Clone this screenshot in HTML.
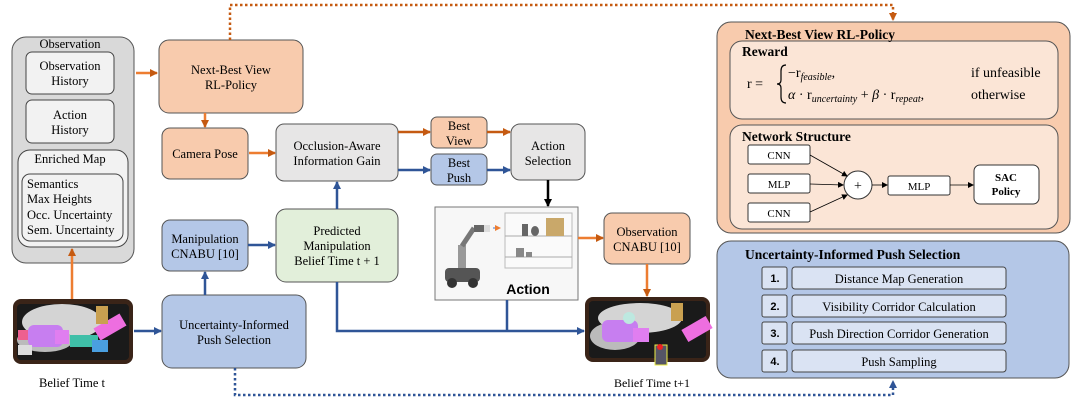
<!DOCTYPE html>
<html><head><meta charset="utf-8"><style>
body{margin:0;background:#fff}
svg{display:block;font-family:"Liberation Serif",serif}
</style></head><body>
<svg width="1076" height="401" viewBox="0 0 1076 401" xmlns="http://www.w3.org/2000/svg">
<defs>
<marker id="ao" markerWidth="6" markerHeight="6" refX="5" refY="3" orient="auto" markerUnits="userSpaceOnUse"><path d="M0,0L6,3L0,6z" fill="#ed7d31"/></marker>
<marker id="ad" markerWidth="8" markerHeight="8" refX="7" refY="4" orient="auto" markerUnits="userSpaceOnUse"><path d="M0,0L8,4L0,8z" fill="#c55a11"/></marker>
<marker id="ab" markerWidth="8" markerHeight="8" refX="7" refY="4" orient="auto" markerUnits="userSpaceOnUse"><path d="M0,0L8,4L0,8z" fill="#2f5597"/></marker>
<marker id="ak" markerWidth="8" markerHeight="8" refX="7" refY="4" orient="auto" markerUnits="userSpaceOnUse"><path d="M0,0L8,4L0,8z" fill="#000"/></marker>
<marker id="as" markerWidth="6" markerHeight="6" refX="5" refY="3" orient="auto" markerUnits="userSpaceOnUse"><path d="M0,0L6,3L0,6z" fill="#000"/></marker>
</defs>
<g font-size="12.5" text-anchor="middle" stroke-width="1">
<rect x="12" y="37" width="122" height="226" rx="14" fill="#d9d9d9" stroke="#555"/>
<text x="70" y="48">Observation</text>
<rect x="26" y="52" width="88" height="42" rx="6" fill="#f2f2f2" stroke="#444"/>
<text x="70" y="70">Observation</text><text x="70" y="85">History</text>
<rect x="26" y="100" width="88" height="43" rx="6" fill="#f2f2f2" stroke="#444"/>
<text x="70" y="119">Action</text><text x="70" y="134">History</text>
<rect x="18" y="150" width="110" height="97" rx="12" fill="#f2f2f2" stroke="#444"/>
<text x="70" y="163">Enriched Map</text>
<rect x="22" y="174" width="101" height="67" rx="8" fill="#f2f2f2" stroke="#444"/>
<g text-anchor="start"><text x="27" y="188">Semantics</text><text x="27" y="203">Max Heights</text><text x="27" y="219">Occ. Uncertainty</text><text x="27" y="234">Sem. Uncertainty</text></g>
<!-- belief t -->
<rect x="13" y="299" width="120" height="65" rx="8" fill="#3a2418"/>
<rect x="17" y="304" width="112" height="56" rx="4" fill="#1a1a1a"/>
<ellipse cx="62" cy="322" rx="40" ry="18" fill="#d4d4d4"/>
<ellipse cx="45" cy="340" rx="28" ry="12" fill="#bbb"/>
<rect x="28" y="325" width="35" height="22" rx="6" fill="#c77ef0"/>
<rect x="55" y="330" width="14" height="14" fill="#e07ef0"/>
<rect x="70" y="335" width="28" height="12" fill="#3fbfa8"/>
<rect x="95" y="320" width="30" height="14" transform="rotate(-30 110 327)" fill="#ee6ee0"/>
<rect x="96" y="306" width="12" height="18" fill="#c9a050"/>
<rect x="92" y="340" width="16" height="12" fill="#4a9fe0"/>
<rect x="18" y="330" width="10" height="10" fill="#ee6090"/>
<rect x="18" y="345" width="14" height="10" fill="#ddd"/>
<text x="72" y="387">Belief Time t</text>
<rect x="159" y="40" width="144" height="73" rx="10" fill="#f8cbad" stroke="#555"/>
<text x="231" y="74">Next-Best View</text><text x="231" y="89">RL-Policy</text>
<rect x="162" y="128" width="86" height="51" rx="8" fill="#f8cbad" stroke="#555"/>
<text x="205" y="158">Camera Pose</text>
<rect x="276" y="124" width="122" height="57" rx="8" fill="#e7e6e6" stroke="#555"/>
<text x="337" y="150">Occlusion-Aware</text><text x="337" y="165">Information Gain</text>
<rect x="162" y="220" width="86" height="51" rx="8" fill="#b4c7e7" stroke="#555"/>
<text x="205" y="243">Manipulation</text><text x="205" y="258">CNABU [10]</text>
<rect x="276" y="209" width="122" height="73" rx="10" fill="#e2efda" stroke="#555"/>
<text x="337" y="235">Predicted</text><text x="337" y="250">Manipulation</text><text x="337" y="265">Belief Time t + 1</text>
<rect x="162" y="295" width="144" height="73" rx="10" fill="#b4c7e7" stroke="#555"/>
<text x="234" y="329">Uncertainty-Informed</text><text x="234" y="344">Push Selection</text>
<rect x="431" y="117" width="56" height="31" rx="6" fill="#f8cbad" stroke="#555"/>
<text x="459" y="130">Best</text><text x="459" y="145">View</text>
<rect x="431" y="154" width="56" height="31" rx="6" fill="#b4c7e7" stroke="#555"/>
<text x="459" y="167">Best</text><text x="459" y="182">Push</text>
<rect x="511" y="124" width="74" height="56" rx="9" fill="#e7e6e6" stroke="#555"/>
<text x="548" y="150">Action</text><text x="548" y="165">Selection</text>
<rect x="435" y="207" width="143" height="93" fill="#f7f7f7" stroke="#777"/>
<rect x="505" y="213" width="67" height="55" fill="#fafafa" stroke="#bbb"/>
<line x1="505" y1="236" x2="572" y2="236" stroke="#aaa"/><line x1="505" y1="257" x2="572" y2="257" stroke="#aaa"/>
<rect x="546" y="218" width="18" height="18" fill="#c9a86a"/>
<rect x="522" y="224" width="6" height="12" fill="#666"/><ellipse cx="535" cy="231" rx="4" ry="5" fill="#666"/>
<rect x="516" y="248" width="8" height="9" fill="#888"/><rect x="526" y="252" width="6" height="5" fill="#888"/>
<rect x="445" y="268" width="35" height="14" rx="4" fill="#555"/>
<circle cx="452" cy="283" r="5" fill="#333"/><circle cx="473" cy="283" r="5" fill="#333"/>
<rect x="458" y="245" width="8" height="23" fill="#999"/>
<line x1="462" y1="246" x2="474" y2="228" stroke="#777" stroke-width="5"/>
<rect x="474" y="225" width="10" height="7" fill="#666"/><rect x="484" y="225" width="6" height="7" fill="#ddd"/>
<line x1="493" y1="228" x2="500" y2="228" stroke="#4472c4" marker-end="url(#ao)"/>
<text x="528" y="294" font-family="Liberation Sans,sans-serif" font-weight="bold" font-size="14">Action</text>
<rect x="604" y="213" width="86" height="51" rx="8" fill="#f8cbad" stroke="#555"/>
<text x="647" y="236">Observation</text><text x="647" y="251">CNABU [10]</text>
<!-- belief t+1 -->
<rect x="585" y="297" width="125" height="65" rx="8" fill="#3a2418"/>
<rect x="589" y="301" width="117" height="57" rx="4" fill="#1a1a1a"/>
<ellipse cx="640" cy="318" rx="42" ry="15" fill="#d4d4d4"/>
<ellipse cx="615" cy="336" rx="25" ry="14" fill="#bbb"/>
<rect x="602" y="320" width="36" height="22" rx="6" fill="#c77ef0"/>
<rect x="633" y="328" width="16" height="14" fill="#e07ef0"/>
<rect x="683" y="322" width="28" height="14" transform="rotate(-30 697 329)" fill="#ee6ee0"/>
<rect x="671" y="303" width="12" height="18" fill="#c9a050"/>
<circle cx="629" cy="318" r="6" fill="#bde8e0"/>
<rect x="655" y="345" width="12" height="20" fill="#556" stroke="#ee4"/>
<circle cx="660" cy="347" r="3" fill="#e22"/>
<text x="652" y="387" font-size="12">Belief Time t+1</text>
</g>
<g fill="none" stroke-width="2.5">
<line x1="136" y1="73" x2="157" y2="73" stroke="#ed7d31" marker-end="url(#ad)"/>
<line x1="72" y1="299" x2="72" y2="249" stroke="#ed7d31" marker-end="url(#ad)"/>
<line x1="205" y1="113" x2="205" y2="127" stroke="#ed7d31" marker-end="url(#ad)"/>
<line x1="249" y1="153" x2="275" y2="153" stroke="#ed7d31" marker-end="url(#ad)"/>
<line x1="398" y1="132" x2="430" y2="132" stroke="#c55a11" marker-end="url(#ad)"/>
<line x1="487" y1="132" x2="510" y2="132" stroke="#c55a11" marker-end="url(#ad)"/>
<line x1="398" y1="170" x2="430" y2="170" stroke="#2f5597" marker-end="url(#ab)"/>
<line x1="487" y1="170" x2="510" y2="170" stroke="#2f5597" marker-end="url(#ab)"/>
<line x1="548" y1="180" x2="548" y2="206" stroke="#000" marker-end="url(#ak)"/>
<line x1="578" y1="238" x2="603" y2="238" stroke="#ed7d31" marker-end="url(#ad)"/>
<line x1="647" y1="264" x2="647" y2="296" stroke="#ed7d31" marker-end="url(#ad)"/>
<line x1="134" y1="331" x2="161" y2="331" stroke="#2f5597" marker-end="url(#ab)"/>
<line x1="205" y1="295" x2="205" y2="272" stroke="#2f5597" marker-end="url(#ab)"/>
<line x1="248" y1="245" x2="275" y2="245" stroke="#2f5597" marker-end="url(#ab)"/>
<line x1="337" y1="209" x2="337" y2="182" stroke="#2f5597" marker-end="url(#ab)"/>
<polyline points="337,282 337,331 584,331" stroke="#2f5597" marker-end="url(#ab)"/>
<line x1="507" y1="300" x2="507" y2="331" stroke="#2f5597"/>
<polyline points="230,40 230,5 893,5 893,20" stroke="#c55a11" stroke-dasharray="2.5,2.5" marker-end="url(#ad)"/>
<polyline points="235,368 235,395 893,395 893,381" stroke="#2f5597" stroke-dasharray="2.5,2.5" marker-end="url(#ab)"/>
</g>
<g stroke="#555">
<rect x="717" y="22" width="353" height="211" rx="14" fill="#f8cbad"/>
<rect x="730" y="41" width="328" height="78" rx="12" fill="#fbe5d6"/>
<rect x="730" y="125" width="328" height="104" rx="12" fill="#fbe5d6"/>
</g>
<g font-weight="bold" font-size="13.5">
<text x="745" y="39">Next-Best View RL-Policy</text>
<text x="742" y="56">Reward</text>
<text x="742" y="141">Network Structure</text>
</g>
<g font-size="14">
<text x="747" y="88">r =</text>
<path d="M786,65 q-5,0 -5,6 v9 q0,4 -4,4 q4,0 4,4 v9 q0,6 5,6" fill="none" stroke="#000" stroke-width="1.2"/>
<text x="788" y="77">−r<tspan font-style="italic" font-size="10" dy="3">feasible</tspan><tspan dy="-3">,</tspan></text>
<text x="788" y="99"><tspan font-style="italic">α</tspan> · r<tspan font-style="italic" font-size="10" dy="3">uncertainty</tspan><tspan dy="-3"> + </tspan><tspan font-style="italic">β</tspan> · r<tspan font-style="italic" font-size="10" dy="3">repeat</tspan><tspan dy="-3">,</tspan></text>
<text x="971" y="77">if unfeasible</text>
<text x="971" y="99">otherwise</text>
</g>
<g font-size="11" text-anchor="middle" stroke="#333">
<rect x="748" y="145" width="62" height="19" rx="2" fill="#fff"/>
<rect x="748" y="174" width="62" height="19" rx="2" fill="#fff"/>
<rect x="748" y="203" width="62" height="19" rx="2" fill="#fff"/>
<circle cx="858" cy="185" r="14" fill="#fff"/>
<rect x="888" y="176" width="62" height="19" rx="2" fill="#fff"/>
<rect x="974" y="165" width="65" height="39" rx="6" fill="#fff"/>
<g stroke="#000" stroke-width="0.8">
<line x1="810" y1="155" x2="847" y2="176" marker-end="url(#as)"/>
<line x1="810" y1="184" x2="843" y2="185" marker-end="url(#as)"/>
<line x1="810" y1="212" x2="847" y2="195" marker-end="url(#as)"/>
<line x1="872" y1="185" x2="887" y2="185" marker-end="url(#as)"/>
<line x1="950" y1="185" x2="973" y2="185" marker-end="url(#as)"/>
</g>
<g stroke="none" fill="#000">
<text x="779" y="159">CNN</text><text x="779" y="188">MLP</text><text x="779" y="217">CNN</text>
<text x="858" y="190" font-size="14">+</text>
<text x="919" y="190">MLP</text>
<text x="1006" y="181" font-weight="bold">SAC</text><text x="1006" y="195" font-weight="bold">Policy</text>
</g>
</g>
<rect x="717" y="241" width="352" height="137" rx="14" fill="#b4c7e7" stroke="#555"/>
<text x="745" y="259" font-weight="bold" font-size="13.5">Uncertainty-Informed Push Selection</text>
<g font-size="12.5" text-anchor="middle" stroke="#444">
<rect x="762" y="267" width="25" height="22" rx="2" fill="#dae3f3"/><rect x="792" y="267" width="214" height="22" rx="3" fill="#dae3f3"/>
<rect x="762" y="295" width="25" height="22" rx="2" fill="#dae3f3"/><rect x="792" y="295" width="214" height="22" rx="3" fill="#dae3f3"/>
<rect x="762" y="322" width="25" height="22" rx="2" fill="#dae3f3"/><rect x="792" y="322" width="214" height="22" rx="3" fill="#dae3f3"/>
<rect x="762" y="350" width="25" height="22" rx="2" fill="#dae3f3"/><rect x="792" y="350" width="214" height="22" rx="3" fill="#dae3f3"/>
<g stroke="none" fill="#000">
<g font-family="Liberation Sans,sans-serif" font-weight="bold" font-size="11">
<text x="775" y="282">1.</text><text x="775" y="310">2.</text><text x="775" y="337">3.</text><text x="775" y="365">4.</text></g>
<text x="899" y="283">Distance Map Generation</text>
<text x="899" y="311">Visibility Corridor Calculation</text>
<text x="899" y="338">Push Direction Corridor Generation</text>
<text x="899" y="366">Push Sampling</text>
</g></g>
</svg>
</body></html>
